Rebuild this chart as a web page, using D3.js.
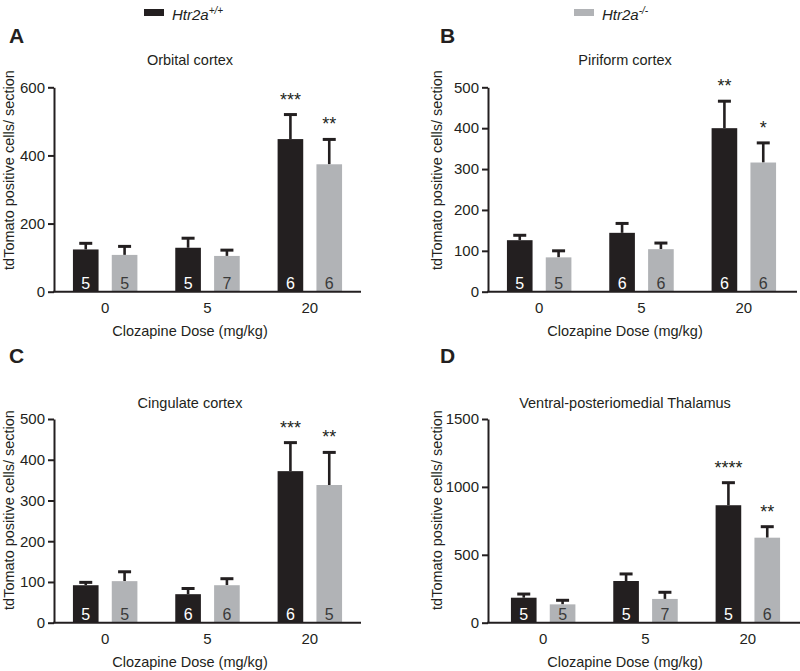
<!DOCTYPE html>
<html>
<head>
<meta charset="utf-8">
<script src="https://cdn.jsdelivr.net/npm/d3@7"></script>
<style>
  html, body { margin: 0; padding: 0; background: #fff; }
  svg { display: block; }
  text { font-family: "Liberation Sans", Arial, Helvetica, sans-serif; fill: #231f20; }
</style>
</head>
<body>
<svg id="chart" width="800" height="671"></svg>
<script>
// ---------- data ----------
const doses = ["0", "5", "20"];
const genotypes = ["wt", "ko"];
const yLabel = "tdTomato positive cells/ section";
const xLabel = "Clozapine Dose (mg/kg)";

// A: Orbital cortex
const orbitalWT = [124, 129, 448];
const orbitalWTsem = [18, 28, 72];
const orbitalKO = [108, 105, 374];
const orbitalKOsem = [25, 17, 73];
const orbitalWTn = [5, 5, 6];
const orbitalKOn = [5, 7, 6];
const orbitalWTsig = ["", "", "***"];
const orbitalKOsig = ["", "", "**"];
const orbitalTicks = [0, 200, 400, 600];

// B: Piriform cortex
const piriformWT = [126, 144, 400];
const piriformWTsem = [12, 23, 66];
const piriformKO = [84, 104, 316];
const piriformKOsem = [16, 15, 48];
const piriformWTn = [5, 6, 6];
const piriformKOn = [5, 6, 6];
const piriformWTsig = ["", "", "**"];
const piriformKOsig = ["", "", "*"];
const piriformTicks = [0, 100, 200, 300, 400, 500];

// C: Cingulate cortex
const cingulateWT = [92, 70, 372];
const cingulateWTsem = [7, 14, 70];
const cingulateKO = [102, 92, 338];
const cingulateKOsem = [23, 16, 80];
const cingulateWTn = [5, 6, 6];
const cingulateKOn = [5, 6, 5];
const cingulateWTsig = ["", "", "***"];
const cingulateKOsig = ["", "", "**"];
const cingulateTicks = [0, 100, 200, 300, 400, 500];

// D: Ventral-posteriomedial Thalamus
const thalamusWT = [184, 307, 865];
const thalamusWTsem = [27, 52, 166];
const thalamusKO = [135, 175, 626];
const thalamusKOsem = [30, 49, 81];
const thalamusWTn = [5, 5, 5];
const thalamusKOn = [5, 7, 6];
const thalamusWTsig = ["", "", "****"];
const thalamusKOsig = ["", "", "**"];
const thalamusTicks = [0, 500, 1000, 1500];

const colors = { wt: "#231f20", ko: "#b1b3b6" };
const nColors = { wt: "#ffffff", ko: "#3a3a3a" };

function rows(wt, wtSem, ko, koSem, wtN, koN, wtSig, koSig) {
  const out = [];
  doses.forEach((d, i) => {
    out.push({ dose: d, g: "wt", v: wt[i], sem: wtSem[i], n: wtN[i], sig: wtSig[i] });
    out.push({ dose: d, g: "ko", v: ko[i], sem: koSem[i], n: koN[i], sig: koSig[i] });
  });
  return out;
}

const panels = [
  { letter: "A", title: "Orbital cortex", ticks: orbitalTicks,
    data: rows(orbitalWT, orbitalWTsem, orbitalKO, orbitalKOsem, orbitalWTn, orbitalKOn, orbitalWTsig, orbitalKOsig),
    ax: 54, xr: [54, 361], xEnd: 361, yr: [291.7, 87.3], cx: 190, letterPos: [9, 43], titleY: 65, ylX: 14, ylY: 170 },
  { letter: "B", title: "Piriform cortex", ticks: piriformTicks,
    data: rows(piriformWT, piriformWTsem, piriformKO, piriformKOsem, piriformWTn, piriformKOn, piriformWTsig, piriformKOsig),
    ax: 488, xr: [488, 795], xEnd: 797, yr: [291.7, 87.3], cx: 625, letterPos: [440, 43], titleY: 65, ylX: 442, ylY: 170 },
  { letter: "C", title: "Cingulate cortex", ticks: cingulateTicks,
    data: rows(cingulateWT, cingulateWTsem, cingulateKO, cingulateKOsem, cingulateWTn, cingulateKOn, cingulateWTsig, cingulateKOsig),
    ax: 54, xr: [54, 361], xEnd: 361, yr: [622.7, 419], cx: 190, letterPos: [9, 363], titleY: 408, ylX: 14, ylY: 510 },
  { letter: "D", title: "Ventral-posteriomedial Thalamus", ticks: thalamusTicks,
    data: rows(thalamusWT, thalamusWTsem, thalamusKO, thalamusKOsem, thalamusWTn, thalamusKOn, thalamusWTsig, thalamusKOsig),
    ax: 488, xr: [492, 799], xEnd: 800, yr: [622.7, 419], cx: 625, letterPos: [440, 363], titleY: 408, ylX: 442, ylY: 510 }
];

const svg = d3.select("#chart");
svg.append("rect").attr("width", 800).attr("height", 671).attr("fill", "#fff");

// ---------- legend ----------
const legend = [
  { g: "wt", x: 144, sup: "+/+" },
  { g: "ko", x: 574, sup: "-/-" }
];
legend.forEach(l => {
  svg.append("rect").attr("x", l.x).attr("y", 9).attr("width", 20).attr("height", 7)
    .attr("fill", colors[l.g]);
  const t = svg.append("text").attr("x", l.x + 28).attr("y", 19.5)
    .attr("font-size", 15).attr("font-style", "italic");
  t.append("tspan").text("Htr2a");
  t.append("tspan").attr("font-size", 10).attr("dy", -6).text(l.sup);
});

// ---------- panels ----------
panels.forEach(p => {
  const g = svg.append("g");
  const x0 = d3.scaleBand().domain(doses).range(p.xr);
  const step = x0.step();
  const x1 = d3.scaleBand().domain(genotypes).range([step * 0.185, step * 0.815]).paddingInner(0.34);
  const y = d3.scaleLinear().domain([0, d3.max(p.ticks)]).range(p.yr);
  const bw = x1.bandwidth();

  // letter & title
  g.append("text").attr("x", p.letterPos[0]).attr("y", p.letterPos[1])
    .attr("font-size", 21).attr("font-weight", "bold").text(p.letter);
  g.append("text").attr("x", p.cx).attr("y", p.titleY).attr("text-anchor", "middle")
    .attr("font-size", 14.5).text(p.title);

  // error bars (drawn first, behind bars)
  const eb = g.append("g").selectAll("g").data(p.data).join("g");
  eb.append("line")
    .attr("x1", d => x0(d.dose) + x1(d.g) + bw / 2)
    .attr("x2", d => x0(d.dose) + x1(d.g) + bw / 2)
    .attr("y1", d => y(d.v))
    .attr("y2", d => y(d.v + d.sem))
    .attr("stroke", "#231f20").attr("stroke-width", 2.6);
  eb.append("line")
    .attr("x1", d => x0(d.dose) + x1(d.g) + bw / 2 - 6.5)
    .attr("x2", d => x0(d.dose) + x1(d.g) + bw / 2 + 6.5)
    .attr("y1", d => y(d.v + d.sem))
    .attr("y2", d => y(d.v + d.sem))
    .attr("stroke", "#231f20").attr("stroke-width", 3);

  // bars
  g.append("g").selectAll("rect").data(p.data).join("rect")
    .attr("x", d => x0(d.dose) + x1(d.g))
    .attr("y", d => y(d.v))
    .attr("width", bw)
    .attr("height", d => y(0) - y(d.v))
    .attr("fill", d => colors[d.g]);

  // n labels
  g.append("g").selectAll("text").data(p.data).join("text")
    .attr("x", d => x0(d.dose) + x1(d.g) + bw / 2)
    .attr("y", y(0) - 3)
    .attr("text-anchor", "middle")
    .attr("font-size", 16)
    .style("fill", d => nColors[d.g])
    .text(d => d.n);

  // significance
  g.append("g").selectAll("text").data(p.data.filter(d => d.sig)).join("text")
    .attr("x", d => x0(d.dose) + x1(d.g) + bw / 2)
    .attr("y", d => y(d.v + d.sem) - 9)
    .attr("text-anchor", "middle")
    .attr("font-size", 18)
    .text(d => d.sig);

  // y axis
  const yAxis = g.append("g").attr("transform", `translate(${p.ax},0)`)
    .call(d3.axisLeft(y).tickValues(p.ticks).tickSize(6).tickSizeOuter(0).tickPadding(3).tickFormat(d3.format("d")));
  yAxis.select(".domain").attr("stroke", "#231f20").attr("stroke-width", 2);
  yAxis.selectAll(".tick line").attr("stroke", "#231f20").attr("stroke-width", 2);
  yAxis.selectAll(".tick text").attr("font-size", 15).style("fill", "#231f20")
    .attr("font-family", "Liberation Sans, Arial, sans-serif");

  // x axis
  const xAxis = g.append("g").attr("transform", `translate(0,${y(0)})`)
    .call(d3.axisBottom(x0).tickSize(0).tickPadding(10.5));
  xAxis.select(".domain").remove();
  xAxis.selectAll(".tick text").attr("font-size", 15).style("fill", "#231f20")
    .attr("font-family", "Liberation Sans, Arial, sans-serif");
  g.append("line").attr("x1", p.ax - 1).attr("x2", p.xEnd)
    .attr("y1", y(0)).attr("y2", y(0))
    .attr("stroke", "#231f20").attr("stroke-width", 2);

  // axis labels
  g.append("text").attr("x", p.cx).attr("y", y(0) + 44).attr("text-anchor", "middle")
    .attr("font-size", 14.5).text(xLabel);
  g.append("text")
    .attr("transform", `translate(${p.ylX},${p.ylY}) rotate(-90)`)
    .attr("text-anchor", "middle")
    .attr("font-size", 14.5).text(yLabel);
});
</script>
</body>
</html>
